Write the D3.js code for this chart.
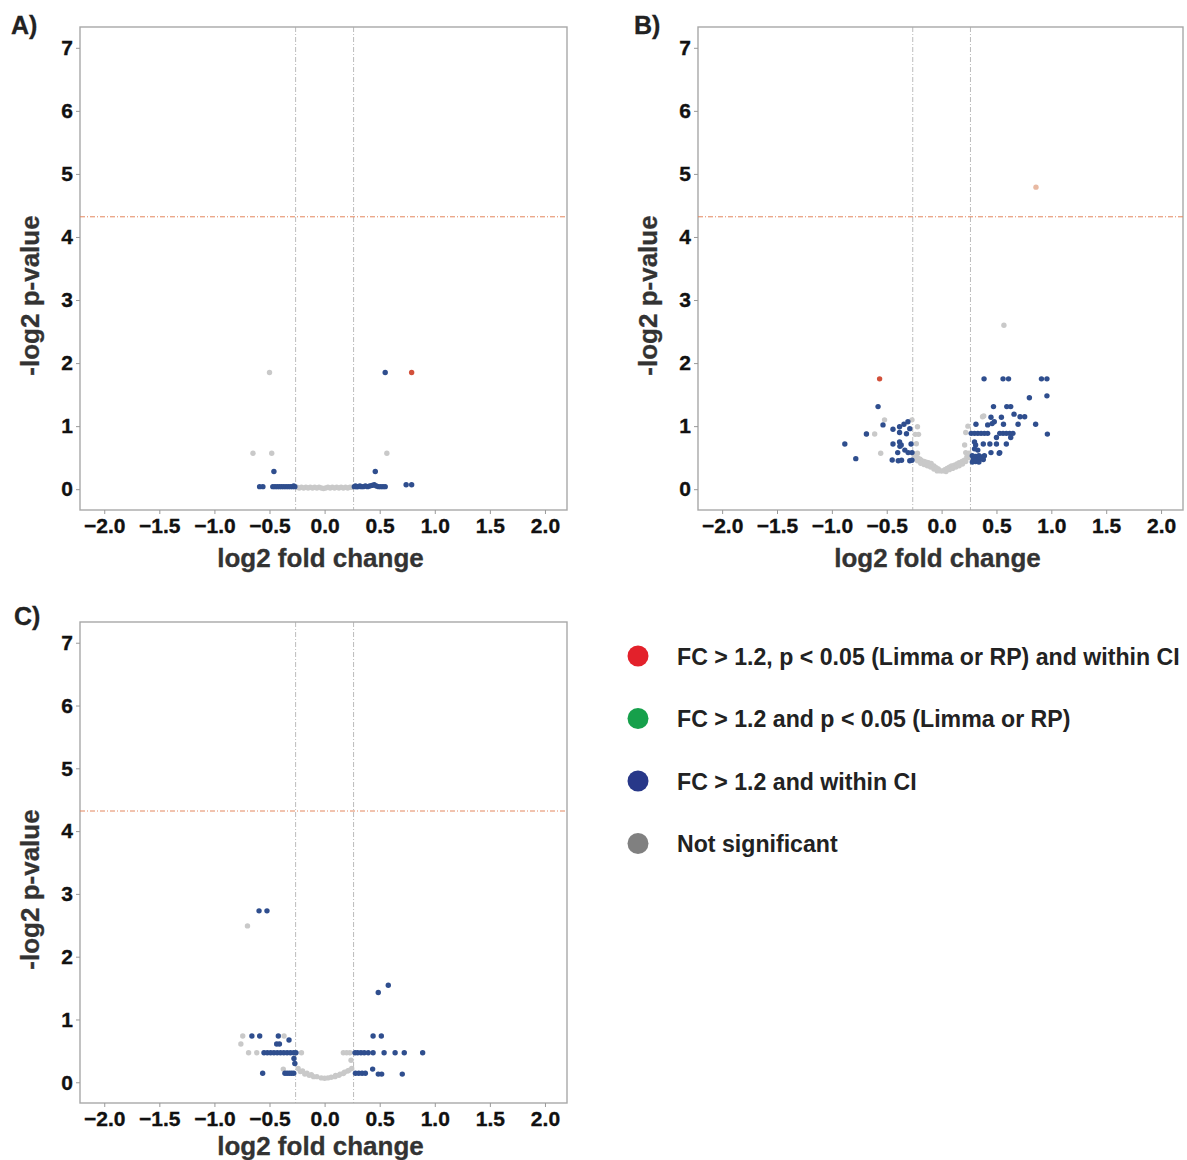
<!DOCTYPE html>
<html>
<head>
<meta charset="utf-8">
<script src="https://cdn.jsdelivr.net/npm/d3@7"></script>
<style>
  body { margin: 0; background: #fff; }
  .tick text { font-family: "Liberation Sans", Arial, sans-serif; font-weight: bold; font-size: 21px; fill: #111; stroke: #111; stroke-width: 0.35px; }
  .tick line { stroke: #999; }
  .title { font-family: "Liberation Sans", Arial, sans-serif; font-weight: bold; font-size: 26px; fill: #333; stroke: #333; stroke-width: 0.3px; }
  .panel-label { font-family: "Liberation Sans", Arial, sans-serif; font-weight: bold; font-size: 25px; fill: #222; stroke: #222; stroke-width: 0.3px; }
  .legend text { font-family: "Liberation Sans", Arial, sans-serif; font-weight: bold; font-size: 24px; fill: #222; }
</style>
</head>
<body>
<div id="chart"></div>
<script>
// axis ticks and thresholds
const xTicks = [-2.0, -1.5, -1.0, -0.5, 0.0, 0.5, 1.0, 1.5, 2.0];
const yTicks = [0, 1, 2, 3, 4, 5, 6, 7];
const fcCut = 0.263;   // log2(1.2)
const pCut = 4.32;     // -log2(0.05)

// panel A  [log2 FC, -log2 p]
const aGray = [[-0.50,1.85],[-0.65,0.57],[-0.48,0.57],[0.565,0.57],
  [-0.25,0.03],[-0.23,0.02],[-0.21,0.03],[-0.19,0.02],[-0.17,0.03],[-0.15,0.02],[-0.13,0.03],[-0.11,0.02],[-0.09,0.03],
  [-0.07,0.02],[-0.05,0.03],[-0.03,0.02],[-0.01,0.01],[0.01,0.02],[0.03,0.03],[0.05,0.02],[0.07,0.03],[0.09,0.02],
  [0.11,0.03],[0.13,0.02],[0.15,0.03],[0.17,0.02],[0.19,0.03],[0.21,0.02],[0.23,0.03],[0.25,0.03]];
const aBlue = [[0.55,1.85],[-0.46,0.28],[0.46,0.28],
  [-0.59,0.04],[-0.56,0.04],[-0.47,0.04],[-0.45,0.04],[-0.43,0.04],[-0.41,0.04],[-0.39,0.04],[-0.37,0.04],[-0.35,0.04],
  [-0.33,0.04],[-0.31,0.04],[-0.29,0.04],[-0.28,0.05],[-0.27,0.04],
  [0.27,0.04],[0.28,0.05],[0.29,0.04],[0.30,0.04],[0.32,0.05],[0.33,0.04],[0.35,0.04],[0.37,0.05],[0.39,0.04],[0.41,0.05],
  [0.43,0.06],[0.45,0.07],[0.47,0.05],[0.49,0.04],[0.51,0.04],[0.53,0.04],[0.55,0.04],[0.74,0.07],[0.79,0.07]];
const aRed = [[0.79,1.85]];

// panel B
const bGray = [[0.568,2.60],[0.384,1.16],[0.373,1.15],[-0.52,1.10],[-0.685,0.875],[-0.61,0.875],[-0.555,0.57],
  [-0.27,1.10],[-0.22,0.99],[-0.21,0.87],[-0.24,0.87],[-0.23,0.72],[-0.22,0.57],[0.22,0.90],[0.21,0.70],[0.22,0.58],[0.24,1.0],
  [-0.26,0.57],[-0.24,0.53],[-0.22,0.50],[-0.20,0.48],[-0.186,0.46],[-0.16,0.44],[-0.14,0.43],[-0.12,0.42],[-0.095,0.41],
  [-0.07,0.37],[-0.05,0.34],[-0.03,0.32],[-0.01,0.29],[0.01,0.29],[0.03,0.31],[0.05,0.33],[0.07,0.35],[0.09,0.37],
  [0.116,0.38],[0.14,0.40],[0.16,0.42],[0.186,0.44],[0.207,0.46],[0.23,0.51],[0.25,0.57],
  [-0.25,0.50],[-0.22,0.45],[-0.19,0.41],[-0.16,0.39],[-0.13,0.37],[-0.10,0.35],[-0.07,0.32],[-0.04,0.29],
  [0.04,0.28],[0.07,0.31],[0.10,0.33],[0.13,0.35],[0.16,0.37],[0.19,0.40],[0.22,0.44],[0.25,0.50]];
const bBlue = [[0.387,1.75],[0.56,1.75],[0.61,1.75],[0.91,1.75],[0.96,1.75],[0.80,1.45],[0.96,1.48],
  [-0.579,1.31],[-0.534,1.02],[-0.685,0.875],[-0.882,0.717],[-0.782,0.484],[-0.443,0.95],
  [-0.383,0.99],[-0.343,1.03],[-0.307,1.07],[-0.383,0.90],[-0.32,0.88],[-0.29,0.96],
  [-0.443,0.717],[-0.383,0.75],[-0.368,0.70],[-0.278,0.717],
  [-0.40,0.58],[-0.335,0.62],[-0.305,0.58],[-0.27,0.58],
  [-0.45,0.463],[-0.395,0.45],[-0.365,0.46],[-0.29,0.45],[-0.27,0.46],[-0.38,0.68],
  [0.473,1.31],[0.594,1.31],[0.63,1.31],[0.66,1.19],[0.715,1.15],[0.757,1.15],[0.45,1.14],[0.48,1.07],[0.545,1.14],
  [0.857,1.03],[0.697,1.03],[0.564,1.03],[0.313,1.03],[0.42,1.02],[0.46,1.04],[0.964,0.874],
  [0.27,0.886],[0.30,0.886],[0.33,0.886],[0.36,0.886],[0.39,0.886],[0.42,0.886],
  [0.53,0.886],[0.56,0.886],[0.59,0.886],[0.62,0.886],[0.65,0.886],[0.50,0.82],[0.63,0.82],
  [0.30,0.75],[0.31,0.70],[0.38,0.717],[0.44,0.717],[0.50,0.717],[0.59,0.717],[0.30,0.64],[0.33,0.62],
  [0.28,0.53],[0.31,0.52],[0.34,0.53],[0.37,0.51],[0.29,0.47],[0.32,0.46],[0.35,0.48],[0.38,0.47],
  [0.28,0.43],[0.31,0.44],[0.34,0.43],[0.39,0.53],[0.525,0.57],[0.45,0.58],[0.53,0.58]];
const bRed = [[-0.565,1.75]];
const bPeach = [[0.86,4.79]];

// panel C
const cGray = [[-0.70,2.49],[-0.743,0.737],[-0.368,0.737],[-0.76,0.61],[-0.69,0.47],[-0.616,0.47],[-0.21,0.47],
  [0.17,0.47],[0.20,0.47],[0.23,0.47],[-0.375,0.21],[0.24,0.35],
  [-0.24,0.22],[-0.20,0.18],[-0.16,0.143],[-0.12,0.12],[-0.07,0.09],[-0.03,0.07],[0.0,0.064],[0.03,0.07],
  [0.06,0.08],[0.094,0.09],[0.13,0.11],[0.17,0.14],[0.21,0.18],[0.246,0.22],
  [-0.22,0.17],[-0.18,0.13],[-0.14,0.11],[-0.10,0.09],[0.10,0.11],[0.14,0.13],[0.18,0.16],[0.22,0.19]];
const cBlue = [[-0.595,2.73],[-0.523,2.73],[0.487,1.43],[0.578,1.545],
  [-0.66,0.737],[-0.589,0.737],[-0.42,0.737],[-0.323,0.673],[0.44,0.737],[0.515,0.737],[-0.435,0.61],[-0.41,0.61],
  [-0.55,0.47],[-0.52,0.47],[-0.49,0.47],[-0.46,0.47],[-0.43,0.47],[-0.40,0.47],[-0.37,0.47],[-0.34,0.47],[-0.31,0.47],
  [-0.28,0.47],[-0.26,0.47],[0.276,0.47],[0.30,0.47],[0.33,0.47],[0.36,0.47],[0.396,0.47],[0.44,0.47],[0.54,0.47],
  [0.64,0.47],[0.723,0.47],[0.89,0.47],[-0.278,0.38],[-0.27,0.30],
  [-0.562,0.143],[-0.36,0.143],[-0.34,0.143],[-0.32,0.143],[-0.30,0.143],[-0.28,0.143],
  [0.28,0.143],[0.31,0.143],[0.34,0.143],[0.37,0.143],[0.436,0.21],[0.487,0.13],[0.518,0.13],[0.705,0.13]];

// legend
const legendLabels = ["FC > 1.2, p < 0.05 (Limma or RP) and within CI", "FC > 1.2 and p < 0.05 (Limma or RP)",
  "FC > 1.2 and within CI", "Not significant"];

const colors = { gray: "#c9c9c9", blue: "#2f4e8e", red: "#d2503a", peach: "#e8b9a2" };
const legendColors = ["#e3212b", "#16a04b", "#283889", "#808080"];

const svg = d3.select("#chart").append("svg").attr("width", 1187).attr("height", 1160);

const panels = [
  { label: "A)", lx: 11, ly: 34, left: 80, top: 27, w: 487, h: 483, xt: 57, layers: [aGray, aBlue, aRed], cols: ["gray", "blue", "red"] },
  { label: "B)", lx: 634, ly: 34, left: 698, top: 27, w: 485, h: 483, xt: 57, layers: [bGray, bBlue, bRed, bPeach], cols: ["gray", "blue", "red", "peach"] },
  { label: "C)", lx: 14, ly: 625, left: 80, top: 622, w: 487, h: 481, xt: 52, layers: [cGray, cBlue], cols: ["gray", "blue"] }
];

panels.forEach(p => {
  const x = d3.scaleLinear().domain([-2.22, 2.2]).range([p.left, p.left + p.w]);
  const y = d3.scaleLinear().domain([-0.33, 7.33]).range([p.top + p.h, p.top]);
  const g = svg.append("g");

  g.append("rect")
    .attr("x", p.left).attr("y", p.top).attr("width", p.w).attr("height", p.h)
    .attr("fill", "none").attr("stroke", "#a8a8a8").attr("stroke-width", 1.4);

  // threshold lines
  [-fcCut, fcCut].forEach(v => {
    g.append("line")
      .attr("x1", x(v)).attr("x2", x(v)).attr("y1", p.top).attr("y2", p.top + p.h)
      .attr("stroke", "#aaa").attr("stroke-width", 0.8).attr("stroke-dasharray", "5,2,1,2");
  });
  g.append("line")
    .attr("x1", p.left).attr("x2", p.left + p.w).attr("y1", y(pCut)).attr("y2", y(pCut))
    .attr("stroke", "#e3865e").attr("stroke-width", 1).attr("stroke-dasharray", "5,2,1,2");

  // points
  p.layers.forEach((pts, i) => {
    g.append("g").selectAll("circle")
      .data(pts)
      .enter()
      .append("circle")
      .attr("cx", d => x(d[0]))
      .attr("cy", d => y(d[1]))
      .attr("r", 2.7)
      .attr("fill", colors[p.cols[i]]);
  });

  const xAxis = g.append("g")
    .attr("transform", "translate(0," + (p.top + p.h) + ")")
    .call(d3.axisBottom(x).tickValues(xTicks).tickSize(4).tickPadding(4).tickFormat(d3.format(".1f")));
  xAxis.select(".domain").remove();

  const yAxis = g.append("g")
    .attr("transform", "translate(" + p.left + ",0)")
    .call(d3.axisLeft(y).tickValues(yTicks).tickSize(4).tickPadding(3));
  yAxis.select(".domain").remove();

  g.append("text").attr("class", "title")
    .attr("x", p.left + p.w / 2 - 3).attr("y", p.top + p.h + p.xt)
    .attr("text-anchor", "middle").text("log2 fold change");

  g.append("text").attr("class", "title")
    .attr("transform", "translate(" + (p.left - 41) + "," + (p.top + p.h / 2 + 27) + ") rotate(-90)")
    .attr("text-anchor", "middle").text("-log2 p-value");

  g.append("text").attr("class", "panel-label")
    .attr("x", p.lx).attr("y", p.ly).text(p.label);
});

// legend (condensed face emulated by squeezing the text horizontally)
const legend = svg.append("g").attr("class", "legend");
const rows = legendLabels.map((lab, i) => {
  const yy = 656 + i * 62.5;
  legend.append("circle").attr("cx", 638).attr("cy", yy).attr("r", 10.5).attr("fill", legendColors[i]);
  return legend.append("g").attr("transform", "translate(677," + (yy + 8.5) + ")")
    .append("text").attr("x", 0).attr("y", 0).text(lab);
});
const squeeze = 503 / rows[0].node().getComputedTextLength();
rows.forEach(t => t.attr("transform", "scale(" + squeeze + ",1)"));
</script>
</body>
</html>
